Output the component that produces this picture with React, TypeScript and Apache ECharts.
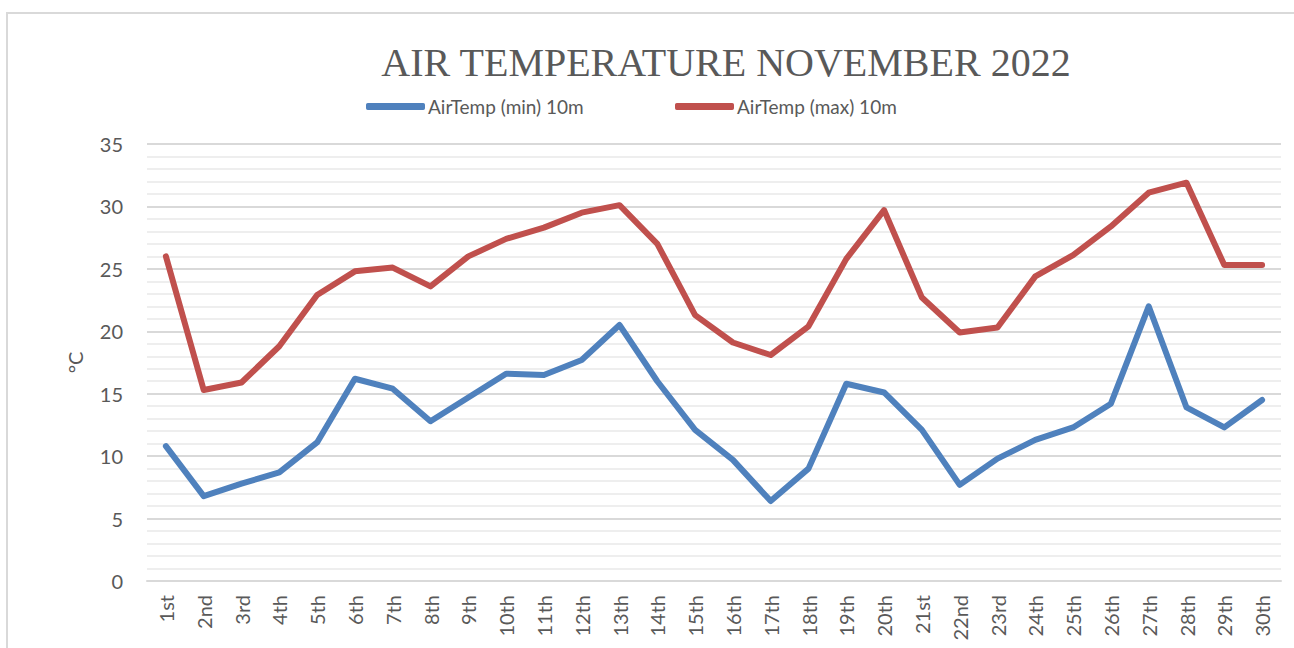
import React, { useEffect, useRef } from "react";
import * as echarts from "echarts";

const titleText = "AIR TEMPERATURE NOVEMBER 2022";
const days = ["1st","2nd","3rd","4th","5th","6th","7th","8th","9th","10th","11th","12th","13th","14th","15th","16th","17th","18th","19th","20th","21st","22nd","23rd","24th","25th","26th","27th","28th","29th","30th"];
const minName = "AirTemp (min) 10m";
const maxName = "AirTemp (max) 10m";
const minTemps = [10.8,6.8,7.8,8.7,11.1,16.2,15.4,12.8,14.7,16.6,16.5,17.7,20.5,16.0,12.1,9.7,6.4,9.0,15.8,15.1,12.1,7.7,9.8,11.3,12.3,14.2,22.0,13.9,12.3,14.5];
const maxTemps = [26.0,15.3,15.9,18.8,22.9,24.8,25.1,23.6,26.0,27.4,28.3,29.5,30.1,27.0,21.3,19.1,18.1,20.4,25.8,29.7,22.7,19.9,20.3,24.4,26.1,28.4,31.1,31.9,25.3,25.3];
const yTicks = { min: 0, max: 35, interval: 5 };

const BLUE = "#4f81bd";
const RED = "#c0504d";
const TEXT = "#595959";
const FONT = "Lato, 'Noto Sans', sans-serif";

export default function App() {
  const ref = useRef<HTMLDivElement>(null);
  useEffect(() => {
    if (!ref.current) return;
    const chart = echarts.init(ref.current, null, { renderer: "svg" });
    const legendBase = {
      icon: "roundRect",
      itemWidth: 59,
      itemHeight: 7,
      itemGap: 0,
      padding: 0,
      textStyle: { color: TEXT, fontSize: 19, fontFamily: FONT, padding: [0, 0, 0, -2] },
    };
    chart.setOption({
      animation: false,
      backgroundColor: "#ffffff",
      graphic: [
        {
          type: "rect",
          shape: { x: 7, y: 13, width: 1300, height: 700 },
          style: { fill: "none", stroke: "#d9d9d9", lineWidth: 2 },
          silent: true,
        },
        {
          type: "text",
          style: {
            text: titleText,
            x: 726,
            y: 62,
            textAlign: "center",
            textVerticalAlign: "middle",
            font: "40px 'Liberation Serif', serif",
            fill: TEXT,
          },
        },
      ],
      legend: [
        { ...legendBase, data: [minName], left: 366, top: 97 },
        { ...legendBase, data: [maxName], left: 675, top: 97 },
      ],
      grid: { left: 147, right: 13, top: 144, bottom: 67, containLabel: false },
      xAxis: {
        type: "category",
        data: days,
        boundaryGap: true,
        axisLine: { show: true, lineStyle: { color: "#d9d9d9", width: 2 } },
        axisTick: { show: false },
        axisLabel: { rotate: 90, color: TEXT, fontSize: 20, fontFamily: FONT, margin: 14, interval: 0 },
        splitLine: { show: false },
      },
      yAxis: {
        type: "value",
        min: yTicks.min,
        max: yTicks.max,
        interval: yTicks.interval,
        name: "°C",
        nameLocation: "middle",
        nameGap: 62,
        nameRotate: 90,
        nameTextStyle: { color: TEXT, fontSize: 20, fontFamily: FONT },
        axisLine: { show: false },
        axisTick: { show: false },
        axisLabel: { color: TEXT, fontSize: 20, fontFamily: FONT, margin: 24 },
        splitLine: { show: true, lineStyle: { color: "#d9d9d9", width: 2 } },
        minorTick: { show: false, splitNumber: 5 },
        minorSplitLine: { show: true, lineStyle: { color: "#eeeeee", width: 2 } },
      },
      series: [
        {
          name: minName,
          type: "line",
          data: minTemps,
          symbol: "none",
          color: BLUE,
          lineStyle: { color: BLUE, width: 6, cap: "round", join: "round" },
          itemStyle: { color: BLUE },
          z: 3,
        },
        {
          name: maxName,
          type: "line",
          data: maxTemps,
          symbol: "none",
          color: RED,
          lineStyle: { color: RED, width: 6, cap: "round", join: "round" },
          itemStyle: { color: RED },
          z: 3,
        },
      ],
    });
    return () => chart.dispose();
  }, []);
  return (
    <div
      ref={ref}
      style={{ position: "fixed", left: 0, top: 0, width: 1294, height: 648 }}
    />
  );
}
